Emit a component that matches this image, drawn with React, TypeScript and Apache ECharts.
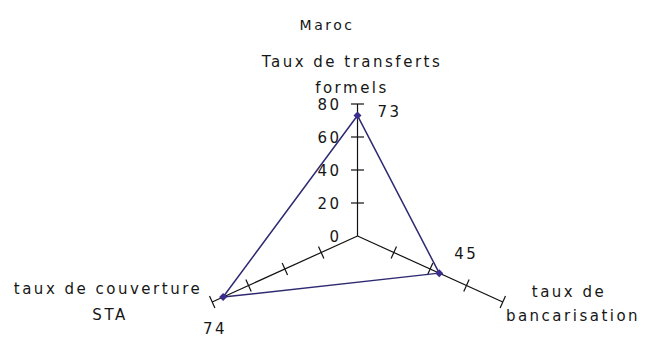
import React, { useEffect, useRef } from "react";
import * as echarts from "echarts";

const title = "Maroc";
const indicators = ["Taux de transferts\nformels", "taux de bancarisation", "taux de couverture\nSTA"];
const indicatorLines = [["Taux de transferts", "formels"], ["taux de", "bancarisation"], ["taux de couverture", "STA"]];
const angles = [90, -30, 210];
const values = [73, 45, 74];
const tickValues = [0, 20, 40, 60, 80];
const axisMax = 80;

const FONT = "DejaVu Sans";
const TEXT_COLOR = "#161616";

const toXY = (v: number, angDeg: number): [number, number] => {
  const a = (angDeg * Math.PI) / 180;
  return [v * Math.cos(a), v * Math.sin(a)];
};

export default function App() {
  const ref = useRef<HTMLDivElement>(null);
  useEffect(() => {
    if (!ref.current) return;
    const chart = echarts.init(ref.current, undefined, { renderer: "svg" });

    const labelOffsets: [number, number][] = [[32, -4], [27, -19], [-8, 32]];
    const polyData: any[] = values.map((v, i) => ({
      value: toXY(v, angles[i]),
      label: { show: true, offset: labelOffsets[i] },
    }));
    polyData.push({ value: toXY(values[0], angles[0]), label: { show: false }, symbolSize: 0 });

    const axisData = angles.map((a, i) => [i, a]);

    const textStyle = (text: string) => ({
      text,
      textAlign: "center",
      textVerticalAlign: "middle",
      fontFamily: FONT,
      fontSize: 15,
      fill: TEXT_COLOR,
    });

    const option: any = {
      animation: false,
      backgroundColor: "#ffffff",
      title: {
        text: title,
        left: 322,
        top: 20,
        textAlign: "center",
        textVerticalAlign: "middle",
        textStyle: { fontFamily: FONT, fontSize: 14, fontWeight: "normal", color: TEXT_COLOR },
      },
      grid: { left: 0, right: 0, top: 0, bottom: 0, containLabel: false },
      xAxis: { type: "value", min: -170.48, max: 138.05, show: false },
      yAxis: { type: "value", min: -63.03, max: 143.03, show: false },
      series: [
        {
          type: "custom",
          coordinateSystem: "cartesian2d",
          silent: true,
          data: axisData,
          renderItem: (params: any, api: any) => {
            const idx = api.value(0);
            const ang = angles[idx];
            const o = api.coord([0, 0]);
            const e = api.coord(toXY(axisMax, ang));
            const dx = e[0] - o[0];
            const dy = e[1] - o[1];
            const len = Math.sqrt(dx * dx + dy * dy);
            const px = -dy / len;
            const py = dx / len;
            const h = 6.5;
            const children: any[] = [
              {
                type: "line",
                shape: { x1: o[0], y1: o[1], x2: e[0], y2: e[1] },
                style: { stroke: "#111", lineWidth: 1.2 },
              },
            ];
            tickValues.forEach((t) => {
              if (t === 0) return;
              const c = api.coord(toXY(t, ang));
              children.push({
                type: "line",
                shape: { x1: c[0] - px * h, y1: c[1] - py * h, x2: c[0] + px * h, y2: c[1] + py * h },
                style: { stroke: "#111", lineWidth: 1.2 },
              });
            });
            if (idx === 0) {
              tickValues.forEach((t) => {
                const c = api.coord(toXY(t, ang));
                children.push({
                  type: "text",
                  x: c[0] - 16,
                  y: c[1] + 1,
                  style: {
                    text: String(t),
                    textAlign: "right",
                    textVerticalAlign: "middle",
                    fontFamily: FONT,
                    fontSize: 15,
                    fill: TEXT_COLOR,
                  },
                });
              });
            }
            return { type: "group", children };
          },
        },
        {
          type: "line",
          data: polyData,
          symbol: "diamond",
          symbolSize: 8,
          lineStyle: { color: "#2e2a72", width: 1.5 },
          itemStyle: { color: "#3b2d8c" },
          label: {
            show: true,
            position: "inside",
            fontFamily: FONT,
            fontSize: 15,
            color: TEXT_COLOR,
            formatter: (p: any) => String(values[p.dataIndex]),
          },
          z: 5,
        },
      ],
      graphic: [
        { type: "text", x: 352, y: 62, style: textStyle(indicatorLines[0][0]) },
        { type: "text", x: 352, y: 88, style: textStyle(indicatorLines[0][1]) },
        { type: "text", x: 569, y: 292, style: textStyle(indicatorLines[1][0]) },
        { type: "text", x: 573, y: 316, style: textStyle(indicatorLines[1][1]) },
        { type: "text", x: 108, y: 289, style: textStyle(indicatorLines[2][0]) },
        { type: "text", x: 110, y: 315, style: textStyle(indicatorLines[2][1]) },
      ],
    };
    chart.setOption(option);
    return () => chart.dispose();
  }, []);

  return (
    <div
      ref={ref}
      aria-label={indicators.join(", ")}
      style={{ position: "absolute", left: 0, top: 0, width: 647, height: 340, letterSpacing: "2.5px" }}
    />
  );
}
